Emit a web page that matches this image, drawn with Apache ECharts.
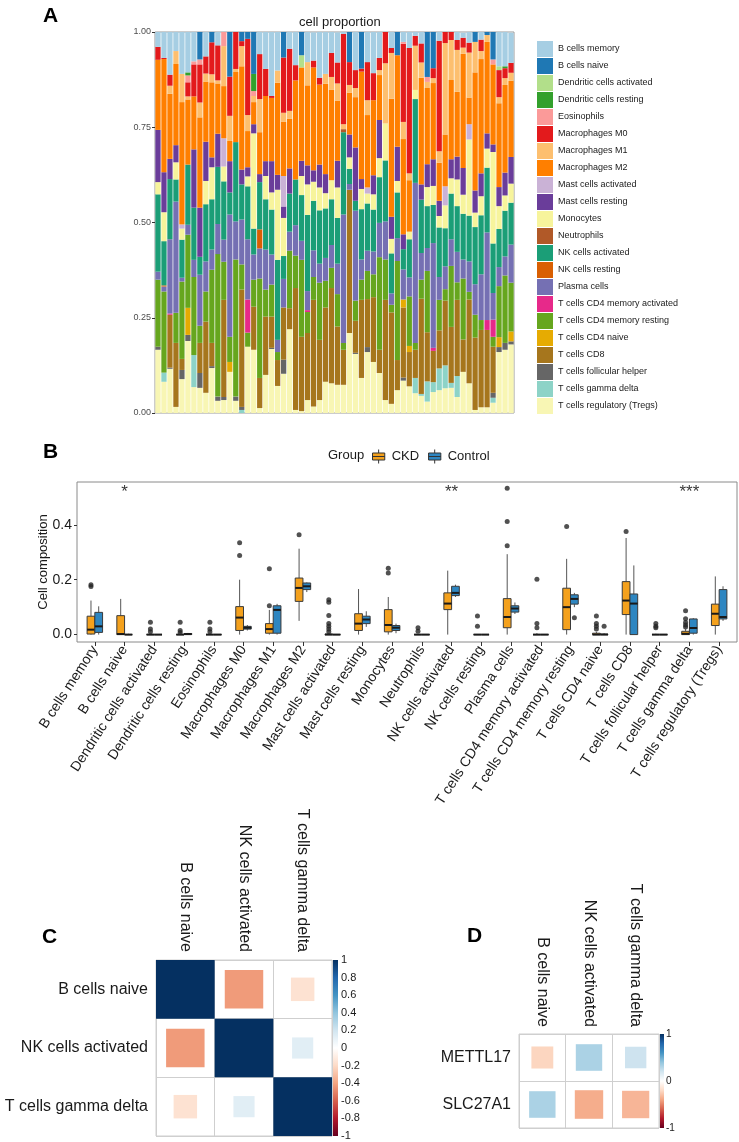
<!DOCTYPE html>
<html>
<head>
<meta charset="utf-8">
<title>cell proportion</title>
<script src="https://cdn.jsdelivr.net/npm/echarts@6.0.0/dist/echarts.min.js"></script>
<style>
  html, body { margin: 0; padding: 0; background: #fff; }
  #main { width: 739px; height: 1142px; }
</style>
</head>
<body>
<div id="main"></div>
<script>
var fontFamily = 'Liberation Sans, Arial, Helvetica, sans-serif';

// ---------- A: cell proportion of each sample ----------
var cellTypes = ['B cells memory', 'B cells naive', 'Dendritic cells activated', 'Dendritic cells resting',
    'Eosinophils', 'Macrophages M0', 'Macrophages M1', 'Macrophages M2', 'Mast cells activated',
    'Mast cells resting', 'Monocytes', 'Neutrophils', 'NK cells activated', 'NK cells resting',
    'Plasma cells', 'T cells CD4 memory activated', 'T cells CD4 memory resting', 'T cells CD4 naive',
    'T cells CD8', 'T cells follicular helper', 'T cells gamma delta', 'T cells regulatory (Tregs)'];
var cellColors = ['#a6cee3', '#1f78b4', '#b2df8a', '#33a02c', '#fb9a99', '#e31a1c', '#fdbf6f', '#ff7f00',
    '#cab2d6', '#6a3d9a', '#f7f49c', '#b15928', '#1b9e77', '#d95f02', '#7570b3', '#e7298a', '#66a61e',
    '#e6ab02', '#a6761d', '#666666', '#8dd3c7', '#f8f6b4'];

var bMemory = [.042, .071, .116, .053, .113, .108, .079, 0, .068, 0,
    .039, 0, 0, 0, 0, 0, 0, .061, .1, .171,
    .103, 0, .044, .087, 0, .079, .074, .121, .113, .055,
    .079, .005, 0, .1, 0, .079, .108, .068, 0, .042,
    0, .029, .042, .01, .03, 0, 0, .023, 0, 0,
    .021, .013, .029, 0, .02, 0, 0, .09, .095, .079];
var bNaive = [0, 0, 0, 0, 0, 0, 0, .074, 0, .029,
    0, 0, .121, 0, .026, .021, .113, 0, 0, 0,
    0, .068, 0, 0, .061, 0, 0, 0, 0, 0,
    0, 0, .079, 0, .1, 0, 0, 0, 0, 0,
    .061, 0, 0, 0, 0, .118, .095, 0, 0, 0,
    0, 0, 0, .026, 0, .008, .074, 0, 0, 0];
var dcActivated = [0, 0, 0, 0, 0, 0, 0, 0, 0, 0,
    0, 0, 0, 0, 0, 0, 0, 0, 0, 0,
    0, 0, 0, 0, .032, 0, 0, 0, 0, 0,
    0, 0, 0, 0, 0, 0, 0, 0, 0, 0,
    0, 0, 0, 0, 0, 0, 0, 0, 0, 0,
    0, 0, 0, 0, 0, 0, 0, .01, 0, 0];
var dcResting = [0, 0, 0, 0, 0, .008, 0, 0, 0, 0,
    0, 0, 0, 0, 0, 0, .045, 0, 0, 0,
    0, 0, 0, 0, 0, 0, 0, 0, 0, 0,
    0, 0, 0, 0, 0, 0, 0, 0, 0, 0,
    0, 0, 0, 0, 0, 0, 0, 0, 0, 0,
    0, 0, 0, 0, 0, 0, 0, 0, .005, 0];
var eosinophils = [0, 0, 0, 0, 0, .018, .008, .013, 0, 0,
    0, .039, 0, 0, 0, 0, .013, 0, 0, 0,
    0, 0, 0, 0, 0, 0, 0, 0, 0, 0,
    0, 0, 0, 0, 0, 0, 0, 0, 0, 0,
    0, .005, 0, 0, 0, .013, 0, 0, 0, 0,
    0, 0, 0, 0, 0, 0, .013, 0, 0, 0];
var macM0 = [.034, .003, .029, 0, 0, .037, .084, .1, .045, .084,
    .092, 0, .103, .1, .013, .2, 0, .118, .071, .005,
    0, .145, .163, .04, 0, 0, .018, .018, 0, .063,
    .055, .237, .06, .047, .008, .1, .071, .032, .082, .013,
    0, .205, .329, .026, .05, 0, .026, .29, .029, .021,
    .026, .026, .026, 0, .03, 0, 0, .071, .026, .026];
var macM1 = [0, 0, .021, .034, .074, .008, 0, .039, .021, .021,
    .008, .105, .066, .008, .053, .042, .016, .087, 0, 0,
    .032, .024, .021, 0, 0, .061, 0, 0, .026, .034,
    .045, .013, .02, .024, 0, .039, 0, .013, .158, .12,
    0, .045, .018, .116, .04, .016, .013, .03, .24, .105,
    .11, .016, .118, .08, .021, .018, 0, .016, .018, .021];
var macM2 = [.184, .297, .171, .213, .321, .171, .139, .237, .158, .197,
    .132, .137, .053, .184, .271, .095, .058, .11, .171, .166,
    .242, .142, .13, .26, .245, .21, .27, .21, .237, .237,
    .158, 0, .11, .132, .282, .19, .197, .118, 0, .31,
    .24, .25, .135, 0, .28, .2, .2, .1, .136, .208,
    .17, .3, .07, .31, .3, .24, .21, .22, .23, .2];
var mastActivated = [0, 0, 0, 0, .011, 0, 0, 0, 0, 0,
    0, .074, 0, 0, 0, 0, 0, 0, 0, 0,
    0, .08, 0, 0, 0, 0, 0, 0, 0, 0,
    0, 0, 0, 0, 0, .016, 0, 0, 0, 0,
    0, 0, 0, 0, 0, 0, 0, 0, .05, 0,
    0, 0, .04, 0, 0, 0, 0, 0, 0, 0];
var mastResting = [.137, .105, .053, .045, 0, 0, .153, .129, .103, .026,
    .087, 0, .082, 0, .039, .024, .024, .021, .039, .082,
    .039, .03, .066, 0, .04, .05, .03, .06, .05, 0,
    .07, 0, .06, .14, .026, 0, .05, .1, 0, .058,
    .09, .039, 0, 0, .04, .06, .07, .04, 0, .05,
    .06, .07, 0, .058, .06, .04, .02, .05, .06, .07];
var monocytes = [.032, .076, 0, .045, .029, 0, 0, 0, .061, .084,
    0, .039, 0, 0, 0, .026, .25, 0, .061, .045,
    .184, .1, 0, 0, .05, .08, .05, .06, .04, .05,
    .08, 0, .03, 0, .053, .026, .04, .05, .097, .038,
    .03, 0, .02, .024, 0, .05, .05, .03, .06, .04,
    .07, .05, .2, .038, .05, .05, .24, .06, .04, .05];
var neutrophils = [0, 0, 0, 0, 0, 0, 0, 0, 0, 0,
    0, 0, 0, 0, 0, 0, 0, 0, 0, 0,
    0, 0, 0, 0, 0, 0, 0, 0, 0, 0,
    0, .008, 0, 0, 0, 0, 0, 0, 0, 0,
    0, 0, 0, 0, 0, 0, 0, 0, 0, 0,
    0, 0, 0, 0, 0, 0, 0, 0, 0, 0];
var nkActivated = [.203, .116, .158, .058, .1, .158, .137, .047, .15, .132,
    .15, .153, .058, .208, .092, .139, .068, .124, .132, .118,
    .21, .06, .1, .12, .12, .2, .13, .14, .13, .12,
    .12, .216, .04, .026, .132, .124, .11, .12, .16, .105,
    .12, .053, .1, .22, .14, .11, .1, .13, .1, .12,
    .12, .12, .12, .15, .155, .17, .13, .1, .12, .11];
var nkResting = [0, .003, 0, 0, 0, 0, 0, 0, 0, 0,
    0, 0, 0, 0, 0, 0, 0, .05, 0, 0,
    0, 0, 0, 0, 0, 0, 0, 0, 0, 0,
    0, 0, 0, 0, 0, 0, 0, 0, 0, 0,
    0, 0, 0, 0, 0, 0, 0, 0, 0, 0,
    0, 0, 0, 0, 0, 0, 0, 0, 0, 0];
var plasma = [.021, .013, .195, .292, .01, .026, .045, .134, .079, .053,
    .079, .058, .321, .1, .118, .158, .066, .079, .105, .079,
    .032, .075, .05, .08, .05, .05, .07, .05, .06, .06,
    .08, .337, .015, .236, .053, .053, .06, .09, .1, .03,
    .06, .079, .05, .42, .07, .06, .275, .06, .06, .07,
    .08, .05, .08, .08, .12, .23, .07, .05, .05, .1];
var cd4MemAct = [0, 0, .003, 0, 0, 0, 0, 0, 0, 0,
    0, 0, 0, 0, 0, .087, 0, 0, 0, 0,
    0, 0, 0, 0, 0, .005, 0, 0, 0, 0,
    0, 0, 0, 0, 0, 0, 0, 0, 0, 0,
    0, 0, 0, 0, 0, 0, .008, 0, 0, 0,
    0, 0, 0, 0, 0, .026, .045, 0, 0, 0];
var cd4MemRest = [.176, .213, 0, .079, .203, .192, .205, .045, .079, .192,
    .374, .1, .066, .36, .066, .037, .071, .261, .071, .084,
    .021, 0, .151, .085, .202, .055, .06, .15, .07, .053,
    .085, .018, 0, .053, .053, .074, .06, .243, .106, .02,
    .26, 0, .13, .018, .05, .161, 0, .08, .03, .16,
    .046, .16, .02, .06, .026, 0, .026, .134, .177, .128];
var cd4Naive = [0, 0, 0, 0, 0, .071, 0, 0, 0, 0,
    0, 0, .026, 0, 0, 0, 0, 0, 0, 0,
    0, 0, 0, 0, 0, 0, 0, 0, 0, 0,
    0, 0, 0, 0, 0, 0, 0, 0, 0, 0,
    0, .021, .016, 0, 0, 0, 0, 0, 0, 0,
    0, 0, 0, 0, 0, 0, 0, .026, 0, .026];
var cd8 = [0, 0, .139, .168, .029, 0, 0, .079, .187, .061,
    0, .255, 0, 0, .308, 0, .113, .079, .153, .082,
    .068, .137, .055, .32, .195, .176, .28, .158, .195, .25,
    .153, .092, .376, .084, .205, .126, .17, .061, .263, .24,
    .079, .184, .09, .074, .25, .129, .082, .1, .17, .147,
    .2, .085, .22, .19, .203, .203, .121, 0, 0, 0];
var follicularHelper = [.008, 0, .003, 0, .024, .016, 0, .039, 0, .005,
    .011, .008, 0, .011, .008, 0, 0, 0, 0, .003,
    0, .037, 0, 0, 0, 0, 0, 0, 0, 0,
    0, 0, 0, .003, 0, .013, 0, 0, 0, 0,
    0, .008, 0, 0, 0, 0, 0, 0, 0, 0,
    0, 0, 0, 0, 0, 0, .013, .013, .018, .008];
var gammaDelta = [0, .024, 0, 0, 0, 0, .084, 0, 0, 0,
    0, 0, 0, 0, .008, 0, 0, 0, 0, 0,
    0, 0, 0, 0, 0, 0, 0, 0, 0, 0,
    0, 0, 0, 0, 0, 0, 0, 0, 0, 0,
    0, 0, 0, .04, .005, .053, .026, .057, .06, .013,
    .055, 0, 0, 0, 0, 0, .013, 0, 0, 0];
var tregs = [.166, .082, .116, .016, .089, .189, .068, .066, .053, .118,
    .032, .034, .108, .032, 0, .174, .166, .013, .1, .168,
    .071, .103, .22, .008, .005, .034, .017, .034, .082, .078,
    .074, .074, .21, .155, .092, .16, .134, .105, .034, .024,
    .06, .085, .07, .052, .045, .03, .055, .06, .065, .066,
    .042, .108, .078, .008, .015, .015, .027, .16, .166, .18];

// same order as cellTypes (legend order, top of the stack first)
var fractions = [bMemory, bNaive, dcActivated, dcResting, eosinophils, macM0, macM1, macM2,
    mastActivated, mastResting, monocytes, neutrophils, nkActivated, nkResting, plasma,
    cd4MemAct, cd4MemRest, cd4Naive, cd8, follicularHelper, gammaDelta, tregs];
var samples = bMemory.map(function (v, i) { return 'S' + (i + 1); });

// ---------- B: boxplot per cell type ----------
// [min, Q1, median, Q3, max]
var ckdBox = [
    [0, 0.002, 0.018, 0.067, 0.124],
    [0, 0, 0.002, 0.069, 0.13],
    [0, 0, 0, 0, 0],
    [0, 0, 0, 0, 0.003],
    [0, 0, 0, 0, 0.002],
    [0, 0.015, 0.062, 0.102, 0.2],
    [0, 0.005, 0.02, 0.04, 0.09],
    [0.05, 0.121, 0.17, 0.206, 0.313],
    [0, 0, 0, 0.002, 0.005],
    [0, 0.015, 0.04, 0.076, 0.166],
    [0, 0.01, 0.035, 0.091, 0.137],
    [0, 0, 0, 0, 0.002],
    [0, 0.091, 0.113, 0.152, 0.233],
    [0, 0, 0, 0, 0],
    [0, 0.025, 0.064, 0.131, 0.293],
    [0, 0, 0, 0, 0.005],
    [0, 0.018, 0.1, 0.169, 0.276],
    [0, 0, 0, 0.005, 0.01],
    [0, 0.073, 0.124, 0.193, 0.352],
    [0, 0, 0, 0, 0.003],
    [0, 0, 0.003, 0.012, 0.02],
    [0, 0.033, 0.076, 0.111, 0.212]
];
var controlBox = [
    [0, 0.008, 0.03, 0.081, 0.103],
    [0, 0, 0, 0, 0.003],
    [0, 0, 0, 0, 0],
    [0, 0, 0.002, 0.004, 0.006],
    [0, 0, 0, 0, 0],
    [0.015, 0.02, 0.025, 0.03, 0.035],
    [0, 0.005, 0.09, 0.105, 0.112],
    [0.155, 0.164, 0.176, 0.188, 0.19],
    [0, 0, 0, 0, 0],
    [0.028, 0.04, 0.055, 0.067, 0.085],
    [0.005, 0.015, 0.025, 0.033, 0.04],
    [0, 0, 0, 0, 0],
    [0.137, 0.142, 0.152, 0.176, 0.182],
    [0, 0, 0, 0, 0],
    [0.075, 0.082, 0.095, 0.105, 0.117],
    [0, 0, 0, 0, 0],
    [0.1, 0.111, 0.13, 0.145, 0.152],
    [0, 0, 0, 0.002, 0.005],
    [0, 0, 0.113, 0.148, 0.252],
    [0, 0, 0, 0, 0],
    [0, 0.005, 0.024, 0.057, 0.06],
    [0.05, 0.057, 0.064, 0.164, 0.176]
];
// [cell type index, value]
var ckdOutliers = [[0, 0.175], [0, 0.182], [2, 0.045], [2, 0.02], [2, 0.01], [3, 0.045], [3, 0.015], [3, 0.008],
    [4, 0.045], [4, 0.02], [4, 0.01], [5, 0.335], [5, 0.288], [6, 0.105], [6, 0.24], [7, 0.364],
    [8, 0.127], [8, 0.118], [8, 0.07], [8, 0.04], [8, 0.03], [8, 0.02], [8, 0.01],
    [10, 0.224], [10, 0.242], [11, 0.025], [11, 0.012], [13, 0.068], [13, 0.03],
    [14, 0.324], [14, 0.412], [14, 0.533], [15, 0.202], [15, 0.04], [15, 0.025], [16, 0.394],
    [17, 0.068], [17, 0.04], [17, 0.03], [17, 0.02], [18, 0.376], [19, 0.04], [19, 0.03], [19, 0.025],
    [20, 0.087], [20, 0.058], [20, 0.044], [20, 0.035], [20, 0.028]];
var controlOutliers = [[16, 0.061], [17, 0.03]];
var compTicks = [0, 0.2, 0.4];
var stars = [[1, '*'], [12, '**'], [20, '***']];
var groupColors = { CKD: '#f4a11d', Control: '#2e86c1' };

// ---------- C / D: correlation ----------
var corrVars = ['B cells naive', 'NK cells activated', 'T cells gamma delta'];
var corrMatrix = [[1, -0.43, -0.16], [-0.43, 1, 0.13], [-0.16, 0.13, 1]];
var genes = ['METTL17', 'SLC27A1'];
var geneCorr = [[-0.22, 0.32, 0.21], [0.32, -0.37, -0.34]];
var rdbu = ['#67001f', '#b2182b', '#d6604d', '#f4a582', '#fddbc7', '#ffffff',
    '#d1e5f0', '#92c5de', '#4393c3', '#2166ac', '#053061'];

// 构建图表
var chart = echarts.init(document.getElementById('main'));

var series = [];
// stacked bars, bottom of the stack first
for (var k = cellTypes.length - 1; k >= 0; k--) {
    series.push({
        name: cellTypes[k],
        type: 'bar',
        stack: 'total',
        xAxisIndex: 0,
        yAxisIndex: 0,
        barCategoryGap: '12%',
        itemStyle: { color: cellColors[k] },
        data: fractions[k]
    });
}

var dodge = 0.13;
var boxHalf = 0.13;
function boxRenderer(shift, fill) {
    return function (params, api) {
        var x = api.value(0) + shift;
        var lo = api.coord([x, api.value(1)]);
        var q1 = api.coord([x, api.value(2)]);
        var md = api.coord([x, api.value(3)]);
        var q3 = api.coord([x, api.value(4)]);
        var hi = api.coord([x, api.value(5)]);
        var half = api.size([boxHalf, 0])[0];
        var cx = md[0];
        return {
            type: 'group',
            children: [
                { type: 'line', shape: { x1: cx, y1: hi[1], x2: cx, y2: q3[1] }, style: { stroke: '#555', lineWidth: 1 } },
                { type: 'line', shape: { x1: cx, y1: q1[1], x2: cx, y2: lo[1] }, style: { stroke: '#555', lineWidth: 1 } },
                { type: 'rect', shape: { x: cx - half, y: q3[1], width: half * 2, height: q1[1] - q3[1] },
                    style: { fill: fill, stroke: '#3a3a3a', lineWidth: 1 } },
                { type: 'line', shape: { x1: cx - half, y1: md[1], x2: cx + half, y2: md[1] }, style: { stroke: '#1a1a1a', lineWidth: 2 } }
            ]
        };
    };
}
function boxRows(box) {
    return box.map(function (b, i) { return [i].concat(b); });
}
series.push({
    name: 'CKD', type: 'custom', xAxisIndex: 1, yAxisIndex: 1,
    itemStyle: { color: groupColors.CKD },
    renderItem: boxRenderer(-dodge, groupColors.CKD),
    encode: { x: 0, y: [1, 2, 3, 4, 5] },
    data: boxRows(ckdBox)
});
series.push({
    name: 'Control', type: 'custom', xAxisIndex: 1, yAxisIndex: 1,
    itemStyle: { color: groupColors.Control },
    renderItem: boxRenderer(dodge, groupColors.Control),
    encode: { x: 0, y: [1, 2, 3, 4, 5] },
    data: boxRows(controlBox)
});
series.push({
    type: 'scatter', xAxisIndex: 1, yAxisIndex: 1, symbolSize: 5,
    itemStyle: { color: '#262626' },
    data: ckdOutliers.map(function (p) { return [p[0] - dodge, p[1]]; })
});
series.push({
    type: 'scatter', xAxisIndex: 1, yAxisIndex: 1, symbolSize: 5,
    itemStyle: { color: '#262626' },
    data: controlOutliers.map(function (p) { return [p[0] + dodge, p[1]]; })
});
series.push({
    type: 'scatter', xAxisIndex: 1, yAxisIndex: 1, symbolSize: 0,
    label: {
        show: true, position: 'inside', fontSize: 17, color: '#000',
        formatter: function (p) { return p.data[2]; }
    },
    data: stars.map(function (s) { return [s[0], 0.52, s[1]]; })
});

function squareRenderer(params, api) {
    var c = api.coord([api.value(0), api.value(1)]);
    var cell = api.size([1, 1]);
    var s = Math.sqrt(Math.abs(api.value(2)));
    var w = cell[0] * s, h = cell[1] * s;
    return {
        type: 'rect',
        shape: { x: c[0] - w / 2, y: c[1] - h / 2, width: w, height: h },
        style: { fill: api.visual('color') }
    };
}
function colorBarRenderer(params, api) {
    var top = api.coord([0, 1]);
    var bottom = api.coord([1, -1]);
    var stops = rdbu.map(function (c, i) { return { offset: i / (rdbu.length - 1), color: c }; });
    return {
        type: 'rect',
        shape: { x: top[0], y: top[1], width: bottom[0] - top[0], height: bottom[1] - top[1] },
        style: { fill: new echarts.graphic.LinearGradient(0, 1, 0, 0, stops) }
    };
}
function matrixCells(m) {
    var out = [];
    m.forEach(function (row, r) {
        row.forEach(function (v, c) { out.push([c, r, v]); });
    });
    return out;
}
var cIndex = series.length;
series.push({ type: 'custom', xAxisIndex: 2, yAxisIndex: 2, renderItem: squareRenderer,
    encode: { x: 0, y: 1 }, data: matrixCells(corrMatrix) });
series.push({ type: 'custom', xAxisIndex: 3, yAxisIndex: 3, renderItem: colorBarRenderer,
    silent: true, data: [[0, 0]] });
var dIndex = series.length;
series.push({ type: 'custom', xAxisIndex: 4, yAxisIndex: 4, renderItem: squareRenderer,
    encode: { x: 0, y: 1 }, data: matrixCells(geneCorr) });
series.push({ type: 'custom', xAxisIndex: 5, yAxisIndex: 5, renderItem: colorBarRenderer,
    silent: true, data: [[0, 0]] });

var hidden = { show: false };
var hiddenLine = { show: false, onZero: false };
var catIdx = cellTypes.map(function (c, i) { return i; });

var option = {
    animation: false,
    backgroundColor: '#fff',
    textStyle: { fontFamily: fontFamily },
    title: [
        { text: 'A', left: 38, top: 1, textStyle: { fontSize: 21, fontWeight: 'bold', color: '#000' } },
        { text: 'cell proportion', left: 294, top: 11, textStyle: { fontSize: 13, fontWeight: 'normal', color: '#1a1a1a' } },
        { text: 'B', left: 38, top: 437, textStyle: { fontSize: 21, fontWeight: 'bold', color: '#000' } },
        { text: 'Group', left: 323, top: 444, textStyle: { fontSize: 13, fontWeight: 'normal', color: '#1a1a1a' } },
        { text: 'C', left: 37, top: 922, textStyle: { fontSize: 21, fontWeight: 'bold', color: '#000' } },
        { text: 'D', left: 462, top: 921, textStyle: { fontSize: 21, fontWeight: 'bold', color: '#000' } }
    ],
    legend: [
        {
            data: cellTypes, orient: 'vertical', left: 532, top: 36,
            itemWidth: 16, itemHeight: 16, itemGap: 1, icon: 'rect', selectedMode: false,
            textStyle: { fontSize: 9, color: '#1a1a1a' }
        },
        {
            data: ['CKD', 'Control'], left: 367, top: 444,
            itemWidth: 16, itemHeight: 14, itemGap: 9, selectedMode: false,
            icon: 'path://M1,4 L15,4 L15,12 L1,12 Z M1,8 L15,8 M8,0 L8,4 M8,12 L8,16',
            itemStyle: { borderColor: '#333', borderWidth: 1 },
            textStyle: { fontSize: 13, color: '#1a1a1a' }
        }
    ],
    visualMap: {
        show: false, type: 'continuous', min: -1, max: 1, dimension: 2,
        seriesIndex: [cIndex, dIndex],
        inRange: { color: rdbu }
    },
    grid: [
        { left: 155, top: 32, width: 359, height: 381, show: true, borderColor: '#999', borderWidth: 1 },
        { left: 77, top: 482, width: 660, height: 160, show: true, borderColor: '#8a8a8a', borderWidth: 1 },
        { left: 156, top: 960, width: 176, height: 176, show: true, borderColor: '#cfcfcf', borderWidth: 1 },
        { left: 333, top: 960, width: 5, height: 176 },
        { left: 519, top: 1034, width: 140, height: 94, show: true, borderColor: '#cfcfcf', borderWidth: 1 },
        { left: 660, top: 1034, width: 4, height: 94 }
    ],
    xAxis: [
        { type: 'category', gridIndex: 0, data: samples, axisLabel: hidden, axisTick: hidden, axisLine: hiddenLine },
        {
            type: 'value', gridIndex: 1, min: -0.6, max: 21.6,
            axisLine: hiddenLine, splitLine: hidden,
            axisTick: { show: true, customValues: catIdx, length: 4, lineStyle: { color: '#333' } },
            axisLabel: {
                customValues: catIdx,
                formatter: function (v) { return cellTypes[Math.round(v)]; },
                rotate: 57, fontSize: 14, color: '#1a1a1a', margin: 5
            }
        },
        {
            type: 'category', gridIndex: 2, position: 'top', data: corrVars,
            axisLine: hiddenLine, axisTick: hidden,
            splitLine: { show: true, lineStyle: { color: '#cfcfcf' } },
            axisLabel: { rotate: 90, margin: 8, fontSize: 16, color: '#1a1a1a' }
        },
        { type: 'value', gridIndex: 3, min: 0, max: 1, show: false },
        {
            type: 'category', gridIndex: 4, position: 'top', data: corrVars,
            axisLine: hiddenLine, axisTick: hidden,
            splitLine: { show: true, lineStyle: { color: '#cfcfcf' } },
            axisLabel: { rotate: 90, margin: 7, fontSize: 16, color: '#1a1a1a' }
        },
        { type: 'value', gridIndex: 5, min: 0, max: 1, show: false }
    ],
    yAxis: [
        {
            type: 'value', gridIndex: 0, min: 0, max: 1, interval: 0.25,
            axisLine: hiddenLine, splitLine: hidden,
            axisTick: { show: true, length: 3, lineStyle: { color: '#333' } },
            axisLabel: { fontSize: 9, color: '#4d4d4d', margin: 4,
                formatter: function (v) { return v.toFixed(2); } }
        },
        {
            type: 'value', gridIndex: 1, min: -0.027, max: 0.556,
            axisLine: hiddenLine, splitLine: hidden,
            name: 'Cell composition', nameLocation: 'middle', nameGap: 27, nameMoveOverlap: false,
            nameTextStyle: { fontSize: 13, color: '#1a1a1a' },
            axisTick: { show: true, customValues: compTicks, length: 3, lineStyle: { color: '#333' } },
            axisLabel: { customValues: compTicks, fontSize: 14, color: '#1a1a1a', margin: 5,
                formatter: function (v) { return v.toFixed(1); } }
        },
        {
            type: 'category', gridIndex: 2, data: corrVars, inverse: true,
            axisLine: hiddenLine, axisTick: hidden,
            splitLine: { show: true, lineStyle: { color: '#cfcfcf' } },
            axisLabel: { margin: 8, fontSize: 16, color: '#1a1a1a' }
        },
        {
            type: 'value', gridIndex: 3, position: 'right', min: -1, max: 1, interval: 0.2,
            axisLine: hiddenLine, splitLine: hidden, axisTick: hidden,
            axisLabel: { fontSize: 11, color: '#1a1a1a', margin: 3,
                formatter: function (v) { return String(Math.round(v * 10) / 10); } }
        },
        {
            type: 'category', gridIndex: 4, data: genes, inverse: true,
            axisLine: hiddenLine, axisTick: hidden,
            splitLine: { show: true, lineStyle: { color: '#cfcfcf' } },
            axisLabel: { margin: 8, fontSize: 16, color: '#1a1a1a' }
        },
        {
            type: 'value', gridIndex: 5, position: 'right', min: -1, max: 1, interval: 1,
            axisLine: hiddenLine, splitLine: hidden, axisTick: hidden,
            axisLabel: { fontSize: 10, color: '#1a1a1a', margin: 2 }
        }
    ],
    series: series
};

chart.setOption(option);
</script>
</body>
</html>
